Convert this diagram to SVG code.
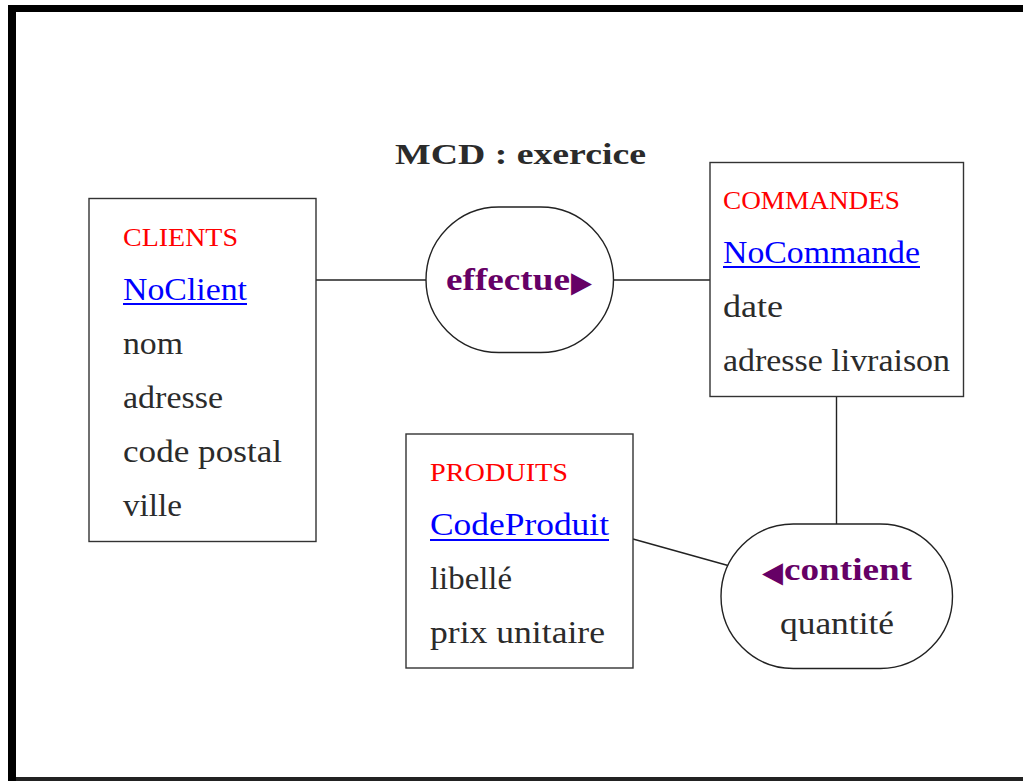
<svg xmlns="http://www.w3.org/2000/svg" width="1023" height="781" viewBox="0 0 1023 781">
<style>
.box{fill:#fff;stroke:#333;stroke-width:1.4}
.assoc{fill:#fff;stroke:#222;stroke-width:1.4}
.conn line{stroke:#222;stroke-width:1.4}
.t{font-family:"Liberation Serif","Times New Roman",serif;font-size:32px;fill:#2b2b2b}
.ent{font-family:"Liberation Serif","Times New Roman",serif;font-size:25px;fill:#ff0000}
.key{font-family:"Liberation Serif","Times New Roman",serif;font-size:32px;fill:#0000ff}
.ul{fill:#0000ff}
.rel{font-family:"Liberation Serif","Times New Roman",serif;font-size:32px;font-weight:bold;fill:#660066}
.tri{font-family:"DejaVu Sans",sans-serif;font-size:29px;fill:#660066}
.title{font-family:"Liberation Serif","Times New Roman",serif;font-size:29px;font-weight:bold;fill:#2b2b2b}
</style>
<rect x="0" y="0" width="1023" height="781" fill="#fff"/>
<g id="frame">
<rect x="8" y="5" width="1015" height="7" fill="#000"/>
<rect x="8" y="5" width="8" height="776" fill="#000"/>
<rect x="16" y="777" width="1007" height="4" fill="#222"/>
</g>
<text id="title" class="title" x="395" y="164" textLength="251" lengthAdjust="spacingAndGlyphs">MCD : exercice</text>
<g class="conn" id="connectors">
<line x1="316" y1="280" x2="426" y2="280"/>
<line x1="613" y1="280" x2="710" y2="280"/>
<line x1="836.5" y1="397" x2="836.5" y2="524"/>
<line x1="633" y1="539" x2="728" y2="565.5"/>
</g>
<g id="clients">
<rect class="box" x="89" y="198.5" width="227" height="343"/>
<text class="ent" x="123" y="246" textLength="115" lengthAdjust="spacingAndGlyphs">CLIENTS</text>
<text class="key" x="123" y="300" textLength="124" lengthAdjust="spacingAndGlyphs">NoClient</text>
<rect class="ul" x="123" y="303" width="124" height="2"/>
<text class="t" x="123" y="354" textLength="60" lengthAdjust="spacingAndGlyphs">nom</text>
<text class="t" x="123" y="408" textLength="100" lengthAdjust="spacingAndGlyphs">adresse</text>
<text class="t" x="123" y="462" textLength="159" lengthAdjust="spacingAndGlyphs">code postal</text>
<text class="t" x="123" y="516" textLength="59" lengthAdjust="spacingAndGlyphs">ville</text>
</g>
<g id="commandes">
<rect class="box" x="710" y="162.5" width="253.5" height="234"/>
<text class="ent" x="723" y="209" textLength="177" lengthAdjust="spacingAndGlyphs">COMMANDES</text>
<text class="key" x="723" y="263" textLength="197" lengthAdjust="spacingAndGlyphs">NoCommande</text>
<rect class="ul" x="723" y="266" width="197" height="2"/>
<text class="t" x="723" y="317" textLength="60" lengthAdjust="spacingAndGlyphs">date</text>
<text class="t" x="723" y="371" textLength="227" lengthAdjust="spacingAndGlyphs">adresse livraison</text>
</g>
<g id="produits">
<rect class="box" x="406" y="434" width="227" height="234"/>
<text class="ent" x="430" y="481" textLength="138" lengthAdjust="spacingAndGlyphs">PRODUITS</text>
<text class="key" x="430" y="535" textLength="179" lengthAdjust="spacingAndGlyphs">CodeProduit</text>
<rect class="ul" x="430" y="539" width="179" height="2"/>
<text class="t" x="430" y="589" textLength="82" lengthAdjust="spacingAndGlyphs">libellé</text>
<text class="t" x="430" y="643" textLength="175" lengthAdjust="spacingAndGlyphs">prix unitaire</text>
</g>
<g id="effectue">
<rect class="assoc" x="426" y="207" width="187.5" height="145.5" rx="72.75" ry="72.75"/>
<text x="446" y="290"><tspan class="rel" x="446" textLength="124" lengthAdjust="spacingAndGlyphs">effectue</tspan><tspan class="tri" x="571" y="292" textLength="21" lengthAdjust="spacingAndGlyphs">▶</tspan></text>
</g>
<g id="contient">
<rect class="assoc" x="721" y="524" width="231.5" height="144.5" rx="72.25" ry="72.25"/>
<text x="762" y="580"><tspan class="tri" x="762" y="582" textLength="21" lengthAdjust="spacingAndGlyphs">◀</tspan><tspan class="rel" x="784" y="580" textLength="128" lengthAdjust="spacingAndGlyphs">contient</tspan></text>
<text class="t" x="780" y="634" textLength="114" lengthAdjust="spacingAndGlyphs">quantité</text>
</g>
</svg>
